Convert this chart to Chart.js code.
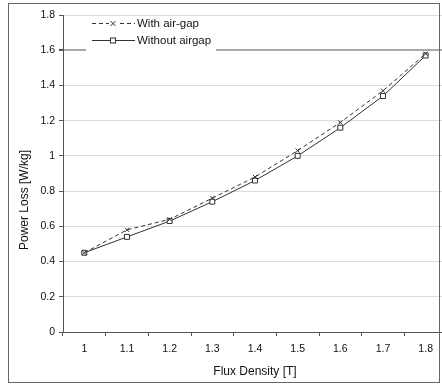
<!DOCTYPE html>
<html>
<head>
<meta charset="utf-8">
<script src="https://cdn.jsdelivr.net/npm/chart.js@4"></script>
<style>
  html, body { margin: 0; padding: 0; background: #fff; overflow: hidden; }
  #wrap { position: relative; width: 452px; height: 385px; }
</style>
</head>
<body>
<div id="wrap"><canvas id="myChart" width="452" height="385"></canvas></div>
<script>
const labels = ["1", "1.1", "1.2", "1.3", "1.4", "1.5", "1.6", "1.7", "1.8"];
const withGap = [0.45, 0.58, 0.64, 0.76, 0.88, 1.03, 1.19, 1.37, 1.58];
const withoutGap = [0.45, 0.54, 0.63, 0.74, 0.86, 1.0, 1.16, 1.34, 1.57];
const legendNames = ["With air-gap", "Without airgap"];
const yTitle = "Power Loss [W/kg]";

const FONT = "Liberation Sans";

// frame around the whole figure, y title and in-plot legend
const extras = {
  id: "extras",
  beforeDraw(chart) {
    const c = chart.ctx;
    c.save();
    c.fillStyle = "#fff";
    c.fillRect(0, 0, chart.width, chart.height);
    c.restore();
  },
  afterDraw(chart) {
    const c = chart.ctx;
    c.save();
    c.strokeStyle = "#666";
    c.lineWidth = 1;
    c.strokeRect(8.5, 3.5, 431, 379);

    // y axis title, sits a bit below the middle like the original
    c.save();
    c.translate(25, 200);
    c.rotate(-Math.PI / 2);
    c.font = "12px '" + FONT + "'";
    c.fillStyle = "#111";
    c.textAlign = "center";
    c.textBaseline = "middle";
    c.fillText(yTitle, 0, 0);
    c.restore();

    // legend box
    c.fillStyle = "#fff";
    c.fillRect(86, 17, 130, 37);
    c.font = "11.5px '" + FONT + "'";
    c.textBaseline = "middle";
    c.strokeStyle = "#333";
    c.lineWidth = 1;

    // with air-gap
    const y1 = 23.5, y2 = 40.5;
    c.setLineDash([4, 3]);
    c.beginPath(); c.moveTo(92, y1); c.lineTo(135, y1); c.stroke();
    c.setLineDash([]);
    c.fillStyle = "#fff";
    c.fillRect(109, y1 - 4, 8, 8);
    c.beginPath();
    c.moveTo(110.5, y1 - 2.5); c.lineTo(115.5, y1 + 2.5);
    c.moveTo(115.5, y1 - 2.5); c.lineTo(110.5, y1 + 2.5);
    c.stroke();
    c.fillStyle = "#111";
    c.fillText(legendNames[0], 137, y1);

    // without airgap
    c.beginPath(); c.moveTo(92, y2); c.lineTo(135, y2); c.stroke();
    c.fillStyle = "#fff";
    c.fillRect(110, y2 - 3, 6, 6);
    c.strokeRect(110.5, y2 - 2.5, 5, 5);
    c.fillStyle = "#111";
    c.fillText(legendNames[1], 137, y2);
    c.restore();
  }
};

const ctx = document.getElementById("myChart").getContext("2d");

const data = {
  labels,
  datasets: [
    {
      data: withGap,
      label: legendNames[0],
      borderColor: "#333",
      borderWidth: 1,
      borderDash: [4, 3],
      pointStyle: "crossRot",
      pointRadius: 3,
      pointBorderColor: "#333",
      pointBorderWidth: 1,
      tension: 0,
    },
    {
      data: withoutGap,
      label: legendNames[1],
      borderColor: "#333",
      borderWidth: 1,
      pointStyle: "rect",
      pointRadius: 3.5,
      pointBackgroundColor: "#fff",
      pointBorderColor: "#333",
      pointBorderWidth: 1,
      tension: 0,
    },
  ],
};

const config = {
  type: "line",
  data: data,
  options: {
    responsive: false,
    animation: false,
    layout: { padding: { left: 15, top: 15, right: 2, bottom: 0 } },
    plugins: {
      legend: { display: false },
      tooltip: { enabled: false },
    },
    scales: {
      x: {
        type: "category",
        offset: true,
        afterFit(scale) { scale.height = 53; },
        grid: {
          offset: true,
          drawOnChartArea: false,
          drawTicks: true,
          tickLength: 4,
          tickColor: "#555",
        },
        border: { color: "#555", width: 1 },
        ticks: {
          color: "#111",
          font: { family: FONT, size: 10.5 },
          padding: 7,
          maxRotation: 0,
        },
        title: {
          display: true,
          text: "Flux Density [T]",
          color: "#111",
          font: { family: FONT, size: 12 },
          padding: { top: 0, bottom: 6 },
        },
      },
      y: {
        min: 0,
        max: 1.8,
        afterFit(scale) { scale.width = 48; },
        ticks: {
          stepSize: 0.2,
          color: "#111",
          font: { family: FONT, size: 10.5 },
          padding: 4,
          callback: (v) => (Math.round(v * 10) / 10).toString(),
        },
        grid: {
          color: (c) => (c.tick && Math.abs(c.tick.value - 1.6) < 1e-6 ? "#aaa" : "#ddd"),
          lineWidth: (c) => (c.tick && Math.abs(c.tick.value - 1.6) < 1e-6 ? 2 : 1),
          tickLength: 4,
          tickColor: "#555",
        },
        border: { color: "#555", width: 1 },
        title: { display: false },
      },
    },
  },
  plugins: [extras],
};

const myChart = new Chart(ctx, config);
</script>
</body>
</html>
